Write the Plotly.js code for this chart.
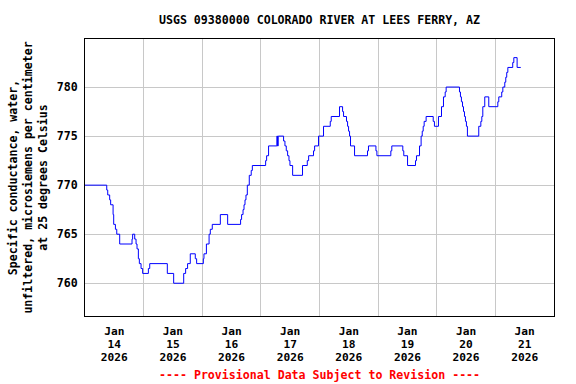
<!DOCTYPE html>
<html>
<head>
<meta charset="utf-8">
<script src="https://cdn.plot.ly/plotly-3.0.1.min.js"></script>
<style>
html,body{margin:0;padding:0;background:#fff;}
#chart{width:576px;height:384px;}
</style>
</head>
<body>
<div id="chart"></div>
<script>
// Hours after 2026-01-14 00:00 at which the reading changes, and the new reading (µS/cm)
const hoursFromStart = [
  0, 8.9, 9.3, 10.1, 10.5, 11.5, 11.75, 12.45, 13.0, 14.2,
  19.25, 19.5, 20.35, 20.9, 21.3, 21.85, 22.25, 22.95, 23.6, 25.95,
  26.5, 33.7, 36.3, 40.4, 41.2, 42.0, 43.1, 45.15, 45.7, 48.45,
  48.7, 49.7, 50.8, 51.3, 52.1, 55.4, 58.4, 63.7, 64.1, 64.7,
  65.1, 65.5, 65.9, 66.45, 67.25, 68.05, 68.5, 73.95, 74.35, 75.15,
  78.55, 78.8, 79.1, 81.3, 81.85, 82.4, 82.95, 83.5, 83.9, 85.0,
  89.05, 91.0, 91.55, 93.55, 94.0, 95.6, 97.65, 100.4, 100.8, 104.2,
  105.45, 105.85, 107.05, 107.5, 107.9, 108.3, 108.7, 110.35, 115.65, 116.05,
  119.1, 119.5, 125.2, 125.6, 130.1, 130.5, 132.05, 135.3, 135.7, 136.95,
  137.6, 138.05, 138.45, 138.85, 139.65, 142.55, 143.05, 144.7, 145.95, 146.75,
  147.45, 147.85, 153.3, 153.7, 154.1, 154.55, 154.95, 155.35, 155.75, 156.15,
  156.55, 161.2, 162.05, 162.45, 162.85, 163.65, 165.3, 169.0, 169.4, 170.6,
  171.05, 171.85, 172.25, 172.65, 173.1, 175.1, 175.55, 176.9, 178.4
];
const conductance = [
  770, 769.5, 769, 768.5, 768, 767, 766, 765.5, 765, 764,
  764.5, 765, 764.5, 764, 763.5, 762.5, 762, 761.5, 761, 761.5,
  762, 761, 760, 761, 761.5, 762, 763, 762.5, 762, 762.5,
  763, 764, 765, 765.5, 766, 767, 766, 766.5, 767, 767.5,
  768, 768.5, 769, 770, 771, 771.5, 772, 772.5, 773, 774,
  775, 774, 775, 774.5, 774, 773.5, 773, 772.5, 772, 771,
  772, 772.5, 773, 773.5, 774, 775, 776, 776.5, 777, 778,
  777.5, 777, 776.5, 776, 775.5, 775, 774, 773, 773.5, 774,
  773.5, 773, 773.5, 774, 773.5, 773, 772, 772.5, 773, 774,
  775, 775.5, 776, 776.5, 777, 776.5, 776, 777, 778, 779,
  779.5, 780, 779.5, 779, 778.5, 778, 777.5, 777, 776.5, 776,
  775, 776, 776.5, 777, 778, 779, 778, 778.5, 779, 779.5,
  780, 780.5, 781, 781.5, 782, 782.5, 783, 782, 782
];
const tickDates = ['2026-01-14 12:00','2026-01-15 12:00','2026-01-16 12:00','2026-01-17 12:00',
                   '2026-01-18 12:00','2026-01-19 12:00','2026-01-20 12:00','2026-01-21 12:00'];
const tickMonths = ['Jan','Jan','Jan','Jan','Jan','Jan','Jan','Jan'];
const tickDays = ['14','15','16','17','18','19','20','21'];
const tickYears = ['2026','2026','2026','2026','2026','2026','2026','2026'];
const chartTitle = 'USGS 09380000 COLORADO RIVER AT LEES FERRY, AZ';
const yTitle = 'Specific conductance, water,<br>unfiltered, microsiemens per centimeter<br>at 25 degrees Celsius';
const footer = '---- Provisional Data Subject to Revision ----';

const startMs = Date.UTC(2026, 0, 14);
function fmt(ms){ return new Date(ms).toISOString().replace('T',' ').slice(0,19); }
const xs = hoursFromStart.map(h => fmt(startMs + h*3600000));

const FAM = '"DejaVu Sans Mono", "Liberation Mono", monospace';
const F = {family:FAM, size:11.6, color:'#000', weight:'bold'};
const FT = {family:FAM, size:11.2, color:'#000', weight:'bold'};
const xRange = ['2026-01-14 00:00','2026-01-22 00:00'];

function labelAxis(text, standoff){
  return {
    type:'date', range:xRange, overlaying:'x', anchor:'y', side:'bottom',
    tickmode:'array', tickvals:tickDates, ticktext:text,
    showgrid:false, ticks:'', tickfont:FT, ticklabelstandoff:standoff,
    showline:false, zeroline:false, fixedrange:true
  };
}

Plotly.newPlot('chart', [
  {x: xs, y: conductance, type:'scatter', mode:'lines',
   line:{color:'#0000ff', width:1, shape:'hv'}, hoverinfo:'skip'},
  {x:[tickDates[0]], y:[770], xaxis:'x2', yaxis:'y', mode:'markers', marker:{opacity:0}, hoverinfo:'skip'},
  {x:[tickDates[0]], y:[770], xaxis:'x3', yaxis:'y', mode:'markers', marker:{opacity:0}, hoverinfo:'skip'}
], {
  width:576, height:384,
  paper_bgcolor:'#fff', plot_bgcolor:'#fff',
  margin:{l:85, r:22, t:39, b:68},
  showlegend:false,
  font:F,
  title:{text:chartTitle, font:F, x:0.5, xref:'paper', xanchor:'center', y:1-20/384, yref:'container', yanchor:'middle'},
  xaxis:{
    type:'date', range:xRange,
    tickmode:'array', tickvals:tickDates, ticktext:tickMonths,
    showgrid:false, ticks:'', tickfont:FT, ticklabelstandoff:5,
    minor:{tickmode:'linear', tick0:'2026-01-14', dtick:86400000, showgrid:true, gridcolor:'#c8c8c8', gridwidth:1, ticks:''},
    showline:true, mirror:true, linecolor:'#000', linewidth:1, zeroline:false, fixedrange:true
  },
  xaxis2: labelAxis(tickDays, 20),
  xaxis3: labelAxis(tickYears, 33),
  yaxis:{
    range:[756.66, 784.9], tick0:760, dtick:5, ticks:'',
    showgrid:true, gridcolor:'#c8c8c8', gridwidth:1, tickfont:F, ticklabelstandoff:4,
    showline:true, mirror:true, linecolor:'#000', linewidth:1, zeroline:false,
    title:{text:yTitle, font:F, standoff:6}, fixedrange:true
  },
  annotations:[{
    text:footer, xref:'paper', yref:'paper', x:0.5, xanchor:'center',
    y:-(375-316)/277, yanchor:'middle', showarrow:false,
    font:{family:FAM, size:11.6, color:'#ff0000', weight:'bold'}
  }]
}, {staticPlot:true, displayModeBar:false});
</script>
</body>
</html>
